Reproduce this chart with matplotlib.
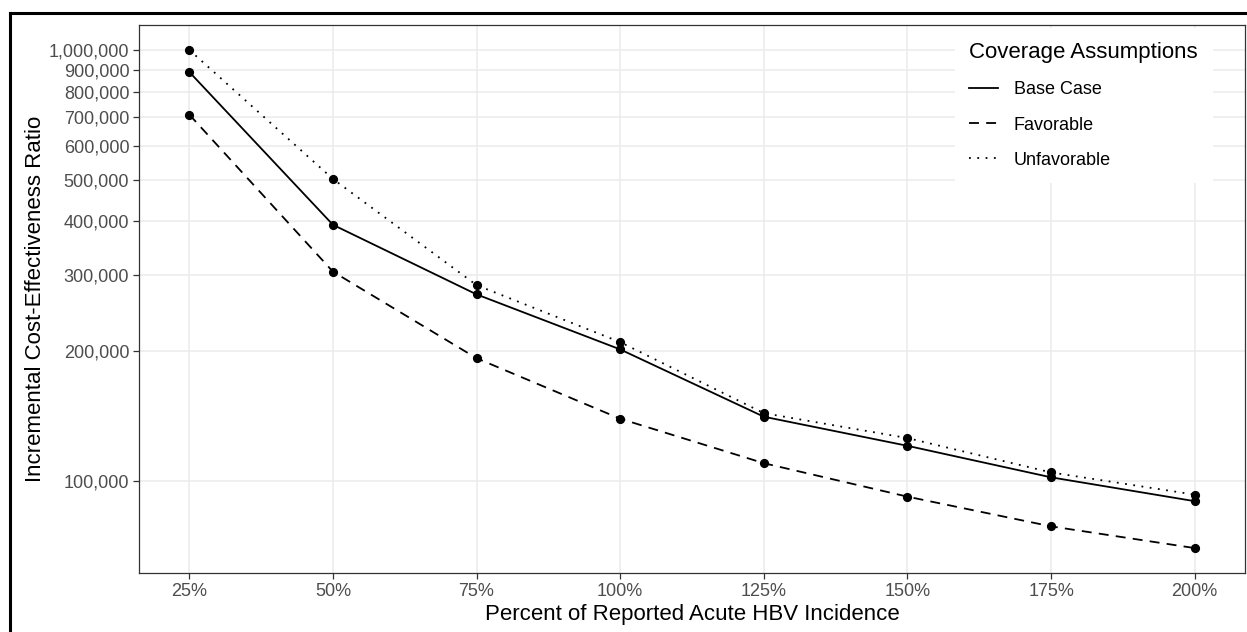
import matplotlib
matplotlib.use('Agg')
import numpy as np
import matplotlib.pyplot as plt
from matplotlib.lines import Line2D
from matplotlib.ticker import FixedLocator, NullLocator

# percent of reported acute HBV incidence
pct = [25, 50, 75, 100, 125, 150, 175, 200]
pct_labels = ['25%', '50%', '75%', '100%', '125%', '150%', '175%', '200%']

# ICER by coverage assumption
icer_base = [889000, 393000, 271000, 202000, 141000, 120700, 102000, 89800]
icer_favorable = [708000, 306000, 192700, 139500, 110000, 92000, 78500, 69900]
icer_unfavorable = [1000000, 502000, 284700, 210000, 143700, 125800, 104700, 93000]

y_breaks = [100000, 200000, 300000, 400000, 500000, 600000, 700000, 800000, 900000, 1000000]

plt.rcParams['font.family'] = ['Liberation Sans', 'DejaVu Sans']

fig = plt.figure(figsize=(12.47, 6.32), dpi=100)
ax = fig.add_axes([139/1247, 1 - 573/632, (1245 - 139)/1247, (573 - 25)/632])

series = [
    ('Base Case', icer_base, '-'),
    ('Favorable', icer_favorable, (0, (5.5, 4.0))),
    ('Unfavorable', icer_unfavorable, (0, (1.0, 3.6))),
]
for name, vals, ls in series:
    ax.plot(pct, vals, color='black', lw=1.3, ls=ls, label=name)
    ax.plot(pct, vals, 'o', color='black', ms=5.6, ls='none')

ax.set_yscale('log')

# ggplot-style 5% expansion on both axes
x_lo, x_hi = min(pct), max(pct)
x_pad = 0.05 * (x_hi - x_lo)
ax.set_xlim(x_lo - x_pad, x_hi + x_pad)
all_y = np.log10(icer_base + icer_favorable + icer_unfavorable)
y_pad = 0.05 * (all_y.max() - all_y.min())
ax.set_ylim(10 ** (all_y.min() - y_pad), 10 ** (all_y.max() + y_pad))

ax.xaxis.set_major_locator(FixedLocator(pct))
ax.set_xticklabels(pct_labels)
ax.yaxis.set_major_locator(FixedLocator(y_breaks))
ax.yaxis.set_minor_locator(NullLocator())
ax.set_yticklabels(['{:,}'.format(v) for v in y_breaks])

ax.grid(True, which='major', color='#EBEBEB', lw=1.1)
ax.set_axisbelow(True)
for sp in ax.spines.values():
    sp.set_color('#333333')
    sp.set_linewidth(0.9)
ax.tick_params(axis='both', colors='#333333', length=4, width=0.9,
               labelsize=13, labelcolor='#4D4D4D', pad=3)

ax.set_xlabel('Percent of Reported Acute HBV Incidence', fontsize=16, labelpad=3)
ax.set_ylabel('Incremental Cost-Effectiveness Ratio', fontsize=16, labelpad=2)

leg = ax.legend(title='Coverage Assumptions', loc='upper left',
                bbox_to_anchor=((955 - 139)/1106, 1.0 - 3/548), fontsize=13,
                title_fontsize=16, frameon=True, fancybox=False,
                handlelength=1.6, handletextpad=0.85, labelspacing=1.0,
                borderpad=0.8, borderaxespad=0.0)
leg.get_frame().set_facecolor('white')
leg.get_frame().set_edgecolor('none')
leg.get_frame().set_alpha(1)
leg._legend_box.align = 'left'

# outer frame around the figure
fig.add_artist(Line2D([10/1247, 10/1247], [0, 1 - 13/632], color='black', lw=2.2))
fig.add_artist(Line2D([10/1247, 1], [1 - 13/632, 1 - 13/632], color='black', lw=2.2))

fig.savefig('out.png', dpi=100)
